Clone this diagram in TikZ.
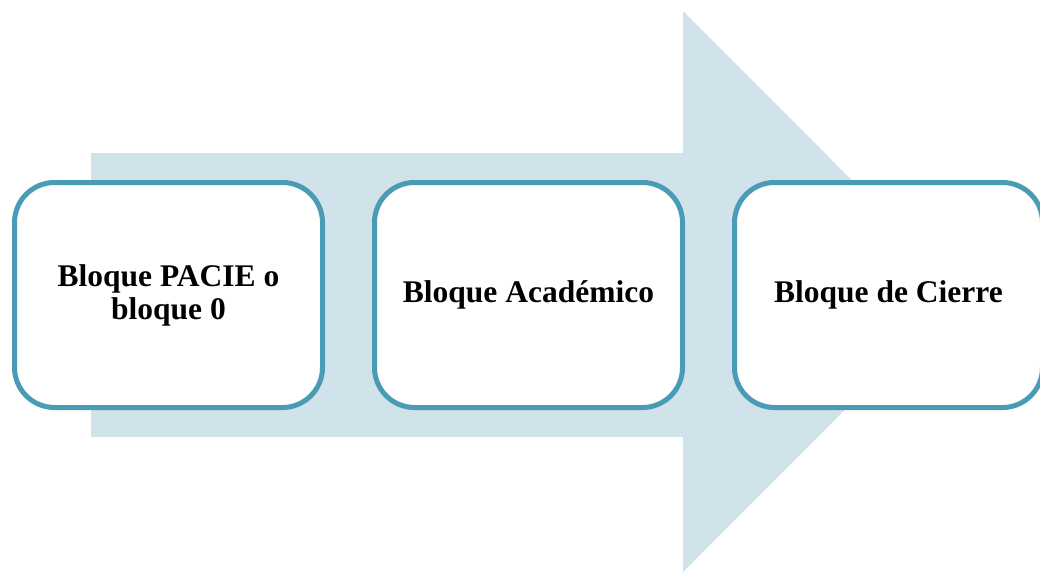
\documentclass[tikz,border=0pt]{standalone}
\usepackage{fontspec}
\setmainfont{Liberation Serif}
\usepackage{xcolor}
\definecolor{arrowfill}{RGB}{208,226,234}
\definecolor{boxline}{RGB}{74,156,180}

\tikzset{
	bloque/.style={draw=boxline, line width=5pt, fill=white, rounded corners=40pt,
		minimum width=308pt, minimum height=225pt, align=center,
		font=\fontsize{31.5}{33}\selectfont\bfseries}
}

\begin{document}
\begin{tikzpicture}[x=1pt, y=-1pt]
	\useasboundingbox (0,0) rectangle (1040,574);
	\clip (0,0) rectangle (1040,574);

	% flecha de fondo
	\fill [arrowfill] (91,153) -- (683,153) -- (683,11) -- (963,291.5)
		-- (683,572) -- (683,437) -- (91,437) -- cycle;

	\node [bloque] (pacie) at (168.5,295) {Bloque PACIE o\\bloque 0};
	\node [bloque] (academico) at (528.5,295) {Bloque Académico};
	\node [bloque] (cierre) at (888.5,295) {Bloque de Cierre};

\end{tikzpicture}
\end{document}
